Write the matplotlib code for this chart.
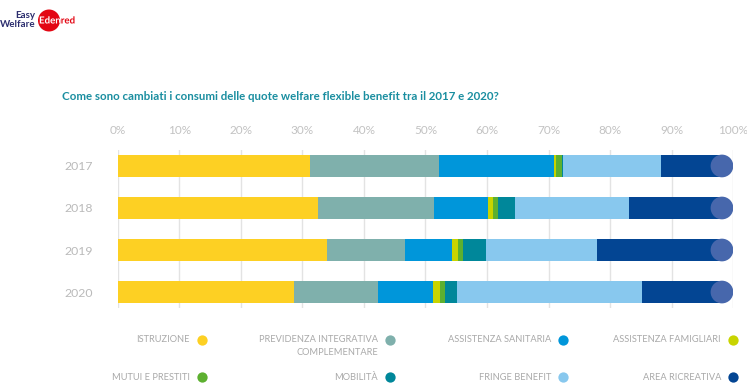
import matplotlib
matplotlib.use("Agg")
import matplotlib.pyplot as plt
from matplotlib.patches import Ellipse, Circle, PathPatch
from matplotlib.textpath import TextPath
from matplotlib.font_manager import FontProperties
from matplotlib.transforms import Affine2D
import numpy as np

plt.rcParams['font.family'] = ['Lato', 'DejaVu Sans']

years = ["2017", "2018", "2019", "2020"]
categories = ["ISTRUZIONE", "PREVIDENZA INTEGRATIVA\nCOMPLEMENTARE", "ASSISTENZA SANITARIA",
              "ASSISTENZA FAMIGLIARI", "MUTUI E PRESTITI", "MOBILITÀ", "FRINGE BENEFIT",
              "AREA RICREATIVA"]
colors = ["#fdd023", "#7fb0ac", "#0096da", "#c8d400", "#5db030", "#00879a", "#88c8ee", "#034593"]

istruzione = [31.2, 32.5, 34.0, 28.6]
previdenza = [21.0, 18.9, 12.7, 13.7]
sanitaria = [18.6, 8.8, 7.6, 8.9]
famigliari = [0.4, 0.8, 1.0, 1.2]
mutui = [1.0, 0.7, 0.8, 0.8]
mobilita = [0.2, 2.9, 3.7, 1.9]
fringe = [15.9, 18.4, 18.1, 30.1]
ricreativa = [11.7, 17.0, 22.1, 14.8]

series = [istruzione, previdenza, sanitaria, famigliari, mutui, mobilita, fringe, ricreativa]
ticks = np.arange(0, 101, 10)

W, H = 747, 388
fig = plt.figure(figsize=(W / 100, H / 100), dpi=100)

# main chart axes (pixel layout)
x0, x1, ytop, ybot = 117.7, 733.3, 150, 308
ax = fig.add_axes([x0 / W, 1 - ybot / H, (x1 - x0) / W, (ybot - ytop) / H])
ypos = np.arange(len(years))
bar_h = 0.54
px_per_unit = (x1 - x0) / 100.0
rx = (bar_h / 2) * (ybot - ytop) / 3.76 / px_per_unit  # cap radius in data x

left = np.zeros(len(years))
for i, (vals, c) in enumerate(zip(series, colors)):
    vals = np.array(vals)
    w = vals.copy()
    if i == len(series) - 1:
        w = vals - rx
    ax.barh(ypos, w, left=left, height=bar_h, color=c, zorder=3, linewidth=0)
    left += vals

for y, total in zip(ypos, left):
    ax.add_patch(Ellipse((total - rx, y), 2 * rx, bar_h, color="#4767ac", zorder=4, lw=0))

ax.set_xlim(0, 100)
ax.set_ylim(3.38, -0.38)
ax.set_xticks(ticks)
ax.set_xticklabels([f"{t}%" for t in ticks], color="#c2c2c2", fontsize=8.5)
ax.xaxis.tick_top()
ax.tick_params(axis="x", length=0, pad=10)
ax.set_yticks(ypos)
ax.set_yticklabels(years, color="#bababa", fontsize=8.8)
ax.tick_params(axis="y", length=0, pad=18)
ax.grid(axis="x", color="#e3e3e3", linewidth=1, zorder=0)
for s in ax.spines.values():
    s.set_visible(False)

# overlay for title, legend, logo in pixel coordinates
ov = fig.add_axes([0, 0, 1, 1], zorder=-1)
ov.set_xlim(0, W)
ov.set_ylim(H, 0)
ov.axis("off")

ov.text(62, 97, "Come sono cambiati i consumi delle quote welfare flexible benefit tra il 2017 e 2020?",
        color="#1a8ea0", fontsize=8.3, fontweight="bold", va="center", ha="left")

# legend
col_x = [202, 390, 563, 733]
row_y = [340, 377]
for k, (lab, c) in enumerate(zip(categories, colors)):
    r, cidx = divmod(k, 4)
    cx, cy = col_x[cidx], row_y[r]
    ov.scatter([cx], [cy], s=55, color=c, zorder=3, linewidths=0)
    if "\n" in lab:
        ov.text(cx - 12, cy - 5, lab, color="#a9a9a9", fontsize=6.7, ha="right", va="top",
                multialignment="right", linespacing=1.55)
    else:
        ov.text(cx - 12, cy, lab, color="#a9a9a9", fontsize=6.7, ha="right", va="center")

# logo
ov.text(35, 16, "Easy", color="#2b2d6e", fontsize=7, fontweight="bold", ha="right", va="center")
ov.text(36, 24.5, "Welfare", color="#2b2d6e", fontsize=7, fontweight="bold", ha="right", va="center")
circ = Circle((49, 20.5), 11, color="#e30613", zorder=2, lw=0)
ov.add_patch(circ)
tp = TextPath((0, 0), "Edenred", size=7, prop=FontProperties(family="Lato", weight="bold"))
tr = Affine2D().scale(100 / 72, -100 / 72).translate(39, 23.5) + ov.transData
ov.add_patch(PathPatch(tp, transform=tr, color="#e30613", lw=0, zorder=3))
white = PathPatch(tp, transform=tr, color="white", lw=0, zorder=4)
ov.add_patch(white)
white.set_clip_path(circ)

fig.savefig("out.png", dpi=100)
